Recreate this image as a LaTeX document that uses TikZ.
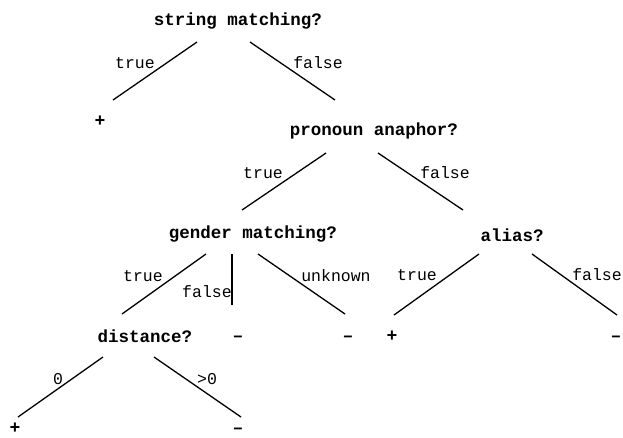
\documentclass[tikz,border=0pt]{standalone}
\usepackage{fontspec}
\setmonofont{Liberation Mono}
\begin{document}
\begin{tikzpicture}[x=1pt,y=-1pt,
  q/.style={font=\ttfamily\bfseries\fontsize{17.5}{19}\selectfont, inner sep=0pt},
  lab/.style={font=\ttfamily\fontsize{16.5}{18}\selectfont, inner sep=0pt},
  leaf/.style={font=\ttfamily\bfseries\fontsize{18}{19}\selectfont, inner sep=0pt},
  br/.style={line width=1.3pt}]
\useasboundingbox (0,0) rectangle (623,437);
% question nodes
\node[q] (S) at (238,21) {string matching?};
\node[q] (P) at (374,131) {pronoun anaphor?};
\node[q] (G) at (253,234) {gender matching?};
\node[q] (A) at (512,235) {alias?};
\node[q] (D) at (145,336) {distance?};
% leaves
\node[leaf] (L1) at (100,121) {+};
\node[leaf] (L2) at (238,339) {–};
\node[leaf] (L3) at (348,339) {–};
\node[leaf] (L4) at (392,336) {+};
\node[leaf] (L5) at (616,339) {–};
\node[leaf] (L6) at (15,428) {+};
\node[leaf] (L7) at (238,431) {–};
% branch end points
\coordinate (s1) at (197,42); \coordinate (t1) at (113,100);
\coordinate (s2) at (250,42); \coordinate (t2) at (335,100);
\coordinate (s3) at (326,153); \coordinate (t3) at (242,210);
\coordinate (s4) at (378,153); \coordinate (t4) at (463,210);
\coordinate (s5) at (206,254); \coordinate (t5) at (122,314);
\coordinate (s6) at (232,254); \coordinate (t6) at (232,305);
\coordinate (s7) at (258,254); \coordinate (t7) at (345,314);
\coordinate (s8) at (479,254); \coordinate (t8) at (394,315);
\coordinate (s9) at (532,254); \coordinate (t9) at (617,315);
\coordinate (s10) at (103,357); \coordinate (t10) at (18,417);
\coordinate (s11) at (154,357); \coordinate (t11) at (241,417);
\foreach \i in {1,...,11} { \draw[br] (s\i) -- (t\i); }
% branch labels
\node[lab] (b1) at (135,63) {true};
\node[lab] (b2) at (318,63) {false};
\node[lab] (b3) at (263,173) {true};
\node[lab] (b4) at (445,173) {false};
\node[lab] (b5) at (143,276) {true};
\node[lab] (b6) at (207,292) {false};
\node[lab] (b7) at (336,276) {unknown};
\node[lab] (b8) at (417,275) {true};
\node[lab] (b9) at (597,275) {false};
\node[lab] (b10) at (58,379) {0};
\node[lab] (b11) at (207,379) {>0};
\end{tikzpicture}
\end{document}
